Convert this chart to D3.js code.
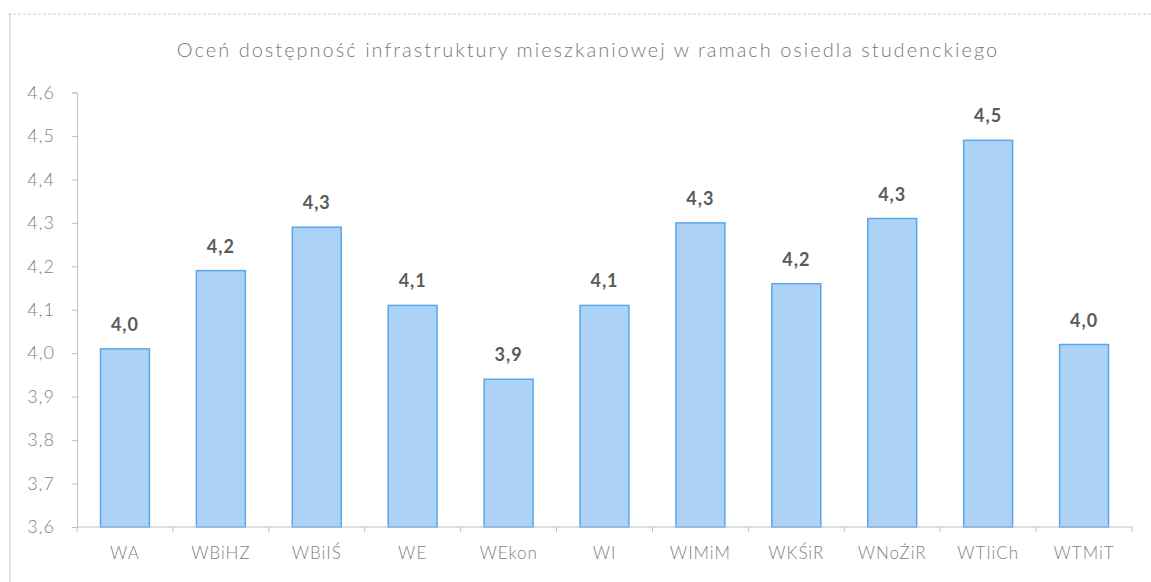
<!DOCTYPE html>
<html>
<head>
<meta charset="utf-8">
<script src="https://cdn.jsdelivr.net/npm/d3@7"></script>
<style>
  body { margin: 0; background: #fff; }
  svg { display: block; }
</style>
</head>
<body>
<svg id="chart"></svg>
<script>
// Data ----------------------------------------
const title = "Oceń dostępność infrastruktury mieszkaniowej w ramach osiedla studenckiego";
const categories = ["WA", "WBiHZ", "WBiIŚ", "WE", "WEkon", "WI", "WIMiM", "WKŚiR", "WNoŻiR", "WTIiCh", "WTMiT"];
const values = [4.01, 4.19, 4.29, 4.11, 3.94, 4.11, 4.30, 4.16, 4.31, 4.49, 4.02];
const yTicks = [3.6, 3.7, 3.8, 3.9, 4.0, 4.1, 4.2, 4.3, 4.4, 4.5, 4.6];

const W = 1151, H = 582;
const margin = { top: 92.5, right: 19, bottom: 55, left: 77 };
const width = W - margin.left - margin.right;
const height = H - margin.top - margin.bottom;

const font = "Lato, 'Open Sans', sans-serif";
const fmt = v => d3.format(".1f")(v).replace(".", ",");

let svg = d3.select("#chart")
    .attr("width", W)
    .attr("height", H);

// outer frame (scanned page edge)
svg.append("line")
    .attr("x1", 10).attr("x2", 10).attr("y1", 13).attr("y2", H)
    .attr("stroke", "#c8c8c8").attr("stroke-width", 1);
svg.append("line")
    .attr("x1", 8).attr("x2", W).attr("y1", 14).attr("y2", 14)
    .attr("stroke", "#d0d0d0").attr("stroke-width", 1)
    .attr("stroke-dasharray", "3,2");

// title
svg.append("text")
    .attr("x", 588)
    .attr("y", 57)
    .attr("text-anchor", "middle")
    .attr("font-family", font)
    .attr("font-weight", 300)
    .attr("font-size", "20px")
    .attr("letter-spacing", "2px")
    .attr("fill", "#7a7a7a")
    .text(title);

let g = svg.append("g")
    .attr("transform", `translate(${margin.left},${margin.top})`);

let x = d3.scaleBand()
    .domain(categories)
    .range([0, width])
    .paddingInner(0.49)
    .paddingOuter(0.245);

let y = d3.scaleLinear()
    .domain([3.6, 4.6])
    .range([height, 0]);

// y axis
let yAxis = g.append("g")
    .call(d3.axisLeft(y).tickValues(yTicks).tickFormat(fmt).tickSize(5).tickPadding(17));
yAxis.select(".domain").attr("stroke", "#bfbfbf");
yAxis.selectAll(".tick line").attr("stroke", "#bfbfbf");
yAxis.selectAll(".tick text")
    .attr("font-family", font)
    .attr("font-weight", 300)
    .attr("font-size", "18px")
    .attr("letter-spacing", "1px")
    .attr("fill", "#7f7f7f");

// bars
g.selectAll("rect.bar")
    .data(values)
    .enter().append("rect")
    .attr("class", "bar")
    .attr("x", (d, i) => x(categories[i]))
    .attr("y", d => y(d))
    .attr("width", x.bandwidth())
    .attr("height", d => height - y(d))
    .attr("fill", "#acd3f6")
    .attr("stroke", "#5ba6e8")
    .attr("stroke-width", 1.5);

// value labels
g.selectAll("text.val")
    .data(values)
    .enter().append("text")
    .attr("class", "val")
    .attr("x", (d, i) => x(categories[i]) + x.bandwidth() / 2)
    .attr("y", d => y(d) - 18)
    .attr("text-anchor", "middle")
    .attr("font-family", font)
    .attr("font-weight", 700)
    .attr("font-size", "18px")
    .attr("letter-spacing", "1px")
    .attr("fill", "#5a5a5a")
    .text(d => fmt(d));

// x axis with ticks at category boundaries
let xAxisG = g.append("g").attr("transform", `translate(0,${height})`);
xAxisG.append("line")
    .attr("x1", 0).attr("x2", width)
    .attr("stroke", "#bfbfbf");
xAxisG.selectAll("line.bound")
    .data(d3.range(categories.length + 1))
    .enter().append("line")
    .attr("class", "bound")
    .attr("x1", i => i * x.step())
    .attr("x2", i => i * x.step())
    .attr("y1", 0).attr("y2", 5)
    .attr("stroke", "#bfbfbf");
xAxisG.selectAll("text")
    .data(categories)
    .enter().append("text")
    .attr("x", d => x(d) + x.bandwidth() / 2)
    .attr("y", 32)
    .attr("text-anchor", "middle")
    .attr("font-family", font)
    .attr("font-weight", 300)
    .attr("font-size", "17px")
    .attr("letter-spacing", "1px")
    .attr("fill", "#7f7f7f")
    .text(d => d);
</script>
</body>
</html>
